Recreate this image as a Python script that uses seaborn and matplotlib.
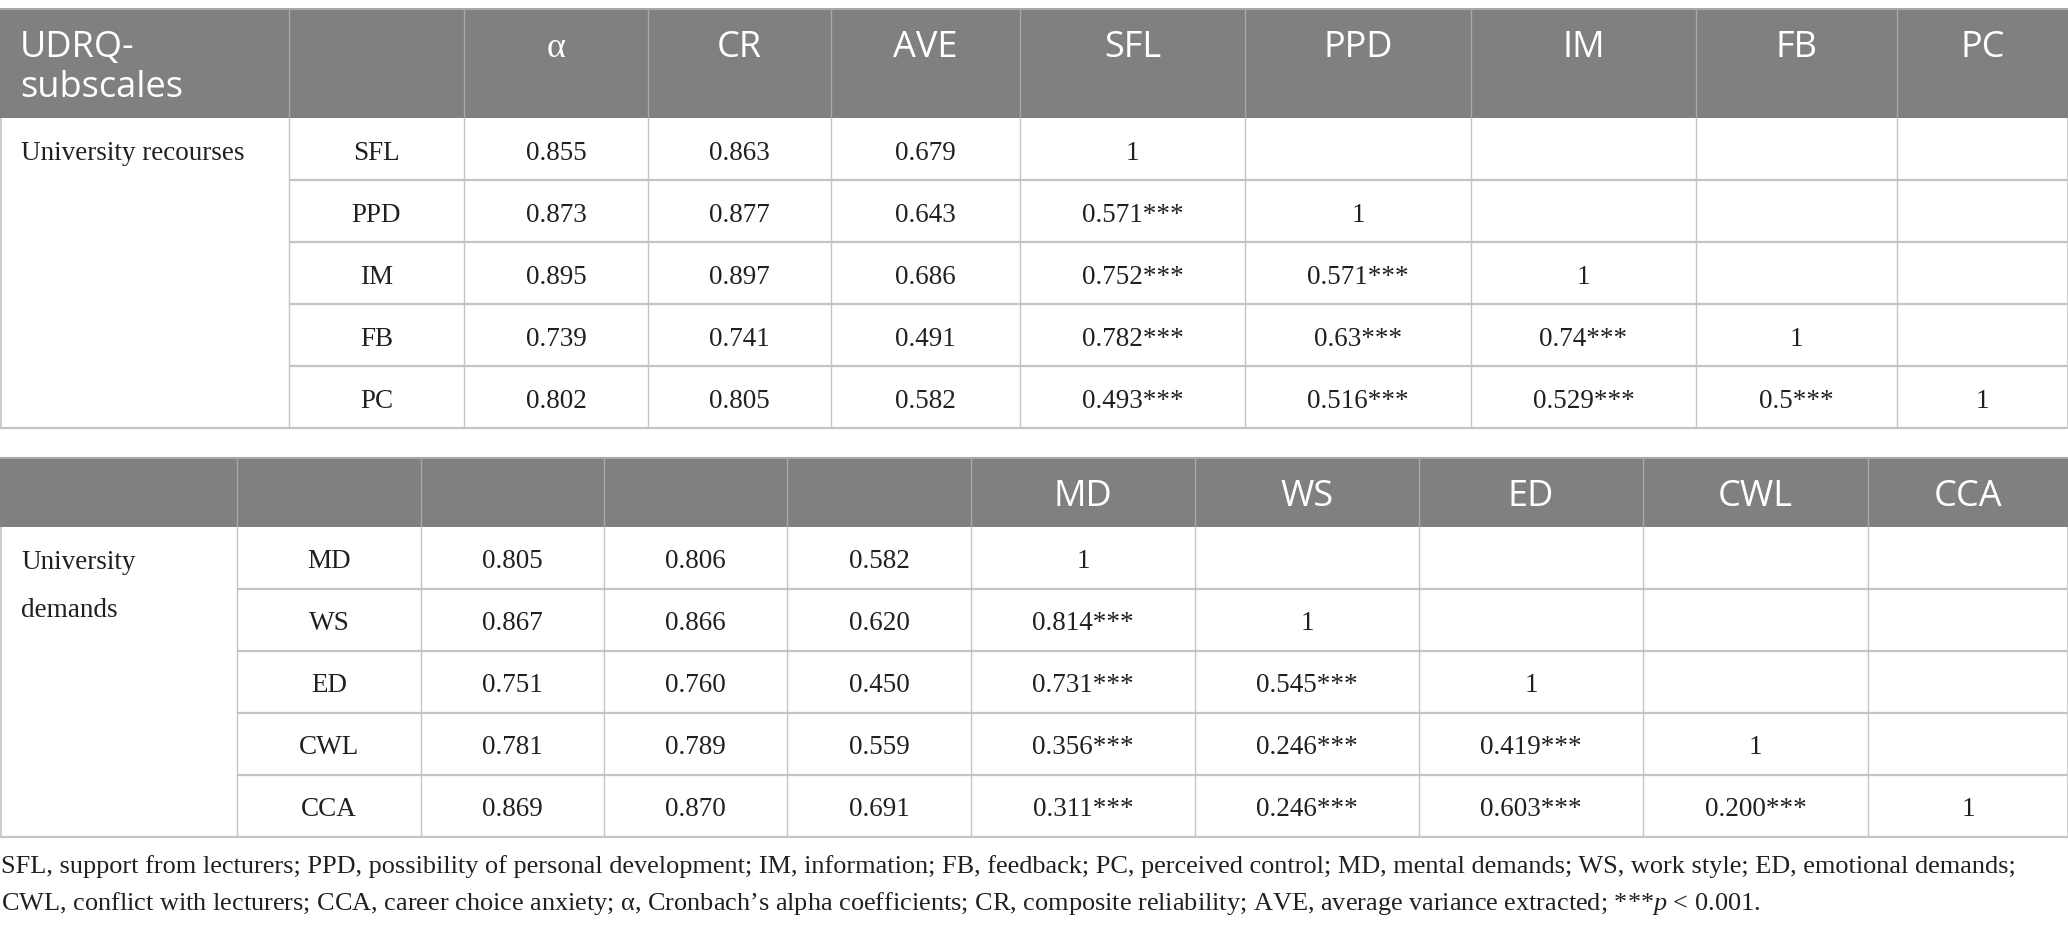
import matplotlib
matplotlib.use("Agg")
import matplotlib.pyplot as plt
import seaborn as sns

# ---- data ----
resource_group = ["University recourses"]
resource_header = ["UDRQ-\nsubscales", "", "α", "CR", "AVE", "SFL", "PPD", "IM", "FB", "PC"]
resource_rows = ["SFL", "PPD", "IM", "FB", "PC"]
resource_alpha = ["0.855", "0.873", "0.895", "0.739", "0.802"]
resource_cr = ["0.863", "0.877", "0.897", "0.741", "0.805"]
resource_ave = ["0.679", "0.643", "0.686", "0.491", "0.582"]
resource_corr = [
    ["1"],
    ["0.571***", "1"],
    ["0.752***", "0.571***", "1"],
    ["0.782***", "0.63***", "0.74***", "1"],
    ["0.493***", "0.516***", "0.529***", "0.5***", "1"],
]

demand_group = ["University", "demands"]
demand_header = ["", "", "", "", "", "MD", "WS", "ED", "CWL", "CCA"]
demand_rows = ["MD", "WS", "ED", "CWL", "CCA"]
demand_alpha = ["0.805", "0.867", "0.751", "0.781", "0.869"]
demand_cr = ["0.806", "0.866", "0.760", "0.789", "0.870"]
demand_ave = ["0.582", "0.620", "0.450", "0.559", "0.691"]
demand_corr = [
    ["1"],
    ["0.814***", "1"],
    ["0.731***", "0.545***", "1"],
    ["0.356***", "0.246***", "0.419***", "1"],
    ["0.311***", "0.246***", "0.603***", "0.200***", "1"],
]

footnote = [
    "SFL, support from lecturers; PPD, possibility of personal development; IM, information; FB, feedback; "
    "PC, perceived control; MD, mental demands; WS, work style; ED, emotional demands;",
    "CWL, conflict with lecturers; CCA, career choice anxiety; α, Cronbach’s alpha coefficients; "
    "CR, composite reliability; AVE, average variance extracted; ***$p$ < 0.001.",
]

# ---- layout (pixels) ----
W, H = 2068, 932
resource_edges = [0, 289, 464, 648, 831, 1020, 1245, 1471, 1696, 1897, 2068]
demand_edges = [0, 237, 421, 604, 787, 971, 1195, 1419, 1643, 1868, 2068]

header_fill = "#808080"
header_line = "#a8a8a8"
grid_line = "#c4c4c4"
text_col = "#231f20"

sns.set_theme(style="white")
plt.rcParams["mathtext.fontset"] = "custom"
plt.rcParams["mathtext.rm"] = "Liberation Serif"
plt.rcParams["mathtext.it"] = "Liberation Serif:italic"

serif = "Liberation Serif"
sans = "Open Sans"
body_fs = 19.5
head_fs = 26

fig = plt.figure(figsize=(W / 100, H / 100), dpi=100)
ax = fig.add_axes([0, 0, 1, 1])
ax.set_xlim(0, W)
ax.set_ylim(H, 0)
ax.axis("off")


def draw_table(top, head_h, row_h, edges, header, group, rows, alpha, cr, ave, corr):
    head_bot = top + head_h
    n = len(rows)
    bottom = head_bot + n * row_h
    # header band
    ax.fill_between([0, W], top, head_bot, color=header_fill, lw=0, zorder=1)
    ax.hlines(top, 0, W, color=header_line, lw=1.5, zorder=2)
    for x in edges[1:-1]:
        ax.vlines(x, top, head_bot, color=header_line, lw=1.0, zorder=2)
    for i, lab in enumerate(header):
        if not lab:
            continue
        if i == 0:
            for k, part in enumerate(lab.split("\n")):
                ax.text(edges[0] + 20, top + 48 + k * 40, part, ha="left", va="baseline",
                        color="white", family=sans, fontsize=head_fs, zorder=3)
        else:
            cx = (edges[i] + edges[i + 1]) / 2
            fam = serif if lab == "α" else sans
            ax.text(cx, top + 48, lab, ha="center", va="baseline",
                    color="white", family=fam, fontsize=head_fs, zorder=3)
    # body grid
    for k in range(1, n + 1):
        ax.hlines(head_bot + k * row_h, edges[1] if k < n else 0, W,
                  color=grid_line, lw=1.6, zorder=2)
    for x in edges[1:-1]:
        ax.vlines(x, head_bot, bottom, color=grid_line, lw=1.0, zorder=2)
    ax.vlines([0.5, W - 0.5], head_bot, bottom, color=grid_line, lw=1.2, zorder=2)
    # body text
    for k, part in enumerate(group):
        ax.text(edges[0] + 21, head_bot + row_h / 2 + 11 + k * 48, part, ha="left",
                va="baseline", color=text_col, family=serif, fontsize=body_fs, zorder=3)
    for r in range(n):
        cy = head_bot + (r + 0.5) * row_h + 4
        cells = [rows[r], alpha[r], cr[r], ave[r]] + corr[r]
        for c, val in enumerate(cells):
            cx = (edges[c + 1] + edges[c + 2]) / 2
            ax.text(cx, cy, val, ha="center", va="center", color=text_col,
                    family=serif, fontsize=body_fs, zorder=3)


draw_table(9, 109, 62, resource_edges, resource_header, resource_group, resource_rows,
           resource_alpha, resource_cr, resource_ave, resource_corr)
draw_table(458, 69, 62, demand_edges, demand_header, demand_group, demand_rows,
           demand_alpha, demand_cr, demand_ave, demand_corr)

notes = [ax.text(1, y, line, ha="left", va="baseline", color=text_col,
                 family=serif, fontsize=body_fs)
         for line, y in zip(footnote, [873, 910])]

# shrink the footnote so its first line spans the same width as in the source
fig.canvas.draw()
renderer = fig.canvas.get_renderer()
span = notes[0].get_window_extent(renderer).width
for t in notes:
    t.set_fontsize(body_fs * 2010 / span)

fig.savefig("out.png", dpi=100, facecolor="white")
